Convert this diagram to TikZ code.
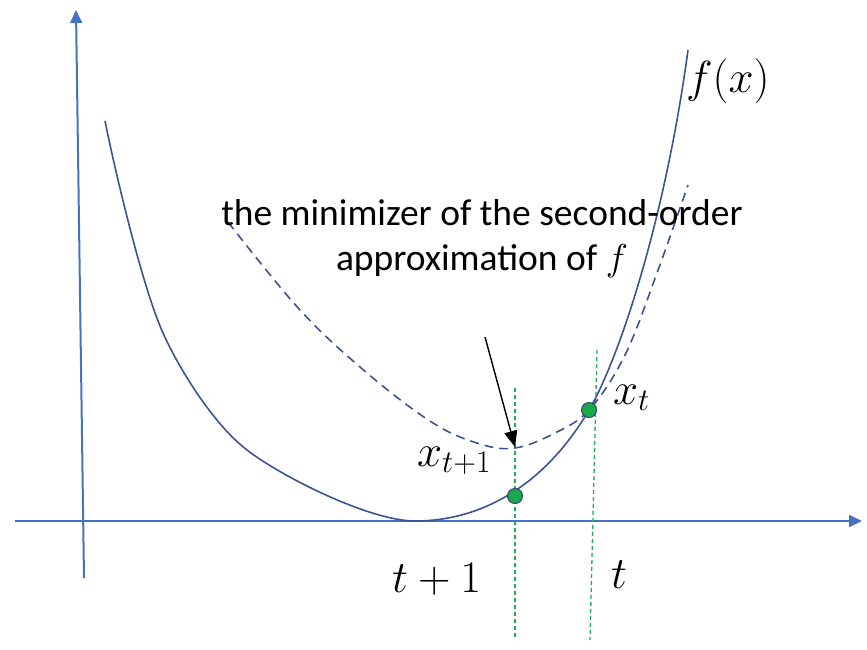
\documentclass[tikz,border=0pt]{standalone}
\usepackage{fix-cm}
\usepackage{fontspec}
\setmainfont{Carlito}
\usepackage{tikz}
\usetikzlibrary{arrows.meta,calc}
\definecolor{axisblue}{HTML}{4472C4}
\definecolor{curve}{HTML}{3C5494}
\definecolor{dotgreen}{HTML}{1BA84A}
\definecolor{guide}{HTML}{1FAE55}
\tikzset{
  axis/.style={draw=axisblue,line width=2pt,-{Triangle[length=13pt,width=12pt]}},
  fcurve/.style={draw=curve,line width=1.6pt},
  approx/.style={draw=curve,line width=1.6pt,dash pattern=on 9pt off 6pt},
  guideline/.style={draw=guide,line width=1.3pt,dash pattern=on 4pt off 3pt},
  pt/.style={circle,fill=dotgreen,draw=curve!80!black,line width=1pt,minimum size=15pt,inner sep=0pt},
  mathlbl/.style={font=\fontsize{45}{50}\selectfont,inner sep=0pt},
  note/.style={font=\fontsize{37.5}{45}\selectfont,align=center,inner sep=0pt},
  pointer/.style={-{Triangle[length=16pt,width=13pt]},draw=black,line width=1.4pt}}

\begin{document}
\begin{tikzpicture}[x={(1pt,0pt)},y={(0pt,-1pt)}]
  \useasboundingbox (0,0) rectangle (867,649);
  % axes
  \coordinate (o1) at (15,521);
  \coordinate (xend) at (862,521);
  \coordinate (o2) at (84,578);
  \coordinate (yend) at (76,10);
  \draw[axis] (o1) -- (xend);
  \draw[axis] (o2) -- (yend);
  % guides
  \coordinate (g1top) at (515,388);
  \coordinate (g1bot) at (515,640);
  \coordinate (g2top) at (597,350);
  \coordinate (g2bot) at (590,640);
  \draw[guideline] (g1top) -- (g1bot);
  \draw[guideline] (g2top) -- (g2bot);
  % f and its quadratic model
  \draw[fcurve] (105,121) .. controls (113,161) and (141,284) .. (163,333)
    .. controls (178,366.5) and (212,423) .. (247,450)
    .. controls (282,477) and (370,521) .. (415,521)
    .. controls (482,521) and (545,485) .. (589,410)
    .. controls (619,359) and (665,220) .. (688,50);
  \draw[approx] plot[smooth,tension=0.6] coordinates {(228,222) (300,310) (367,373) (433,423) (480,444) (515,448) (553,434) (589,410) (625,355) (657,273) (688,185)};
  % iterates
  \coordinate (qmin) at (515,447);
  \node[pt] (xnext) at (515,496) {};
  \node[pt] (xcur) at (589,410) {};
  % labels
  \node[mathlbl,anchor=base west] (fx) at (686,92) {$f(x)$};
  \node[mathlbl,anchor=base west] (lxt) at (613,404) {$x_t$};
  \node[mathlbl,anchor=base west] (lxn) at (417,466) {$x_{t+1}$};
  \node[mathlbl,anchor=base west] (tn) at (392,592) {$t+1$};
  \node[mathlbl,anchor=base west] (tc) at (611,588) {$t$};
  \node[note,anchor=base] (msg) at (482,270) {the minimizer of the second-order\\approximation of $f$};
  \coordinate (tail) at (485,337);
  \draw[pointer] (tail) -- (qmin);
\end{tikzpicture}
\end{document}
